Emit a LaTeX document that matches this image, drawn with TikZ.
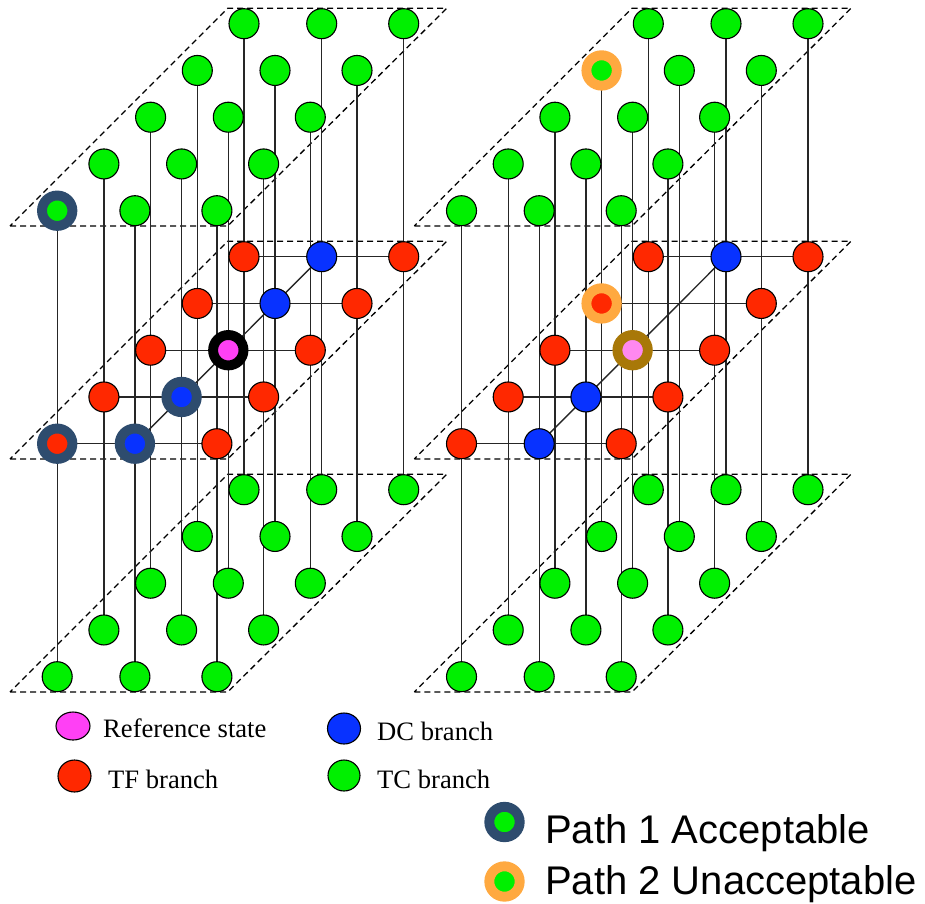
\documentclass[tikz,border=0pt]{standalone}
\usepackage{fontspec}
\setmainfont{Liberation Serif}
\newfontfamily\pathfont{Liberation Sans}
\usetikzlibrary{shapes.geometric,backgrounds}
\definecolor{tcgreen}{RGB}{0,240,0}
\definecolor{tfred}{RGB}{255,40,0}
\definecolor{dcblue}{RGB}{8,50,255}
\definecolor{refpink}{RGB}{255,64,245}
\definecolor{refpinklight}{RGB}{255,136,240}
\definecolor{ringblue}{RGB}{46,76,110}
\definecolor{ringorange}{RGB}{255,169,64}
\definecolor{ringbrown}{RGB}{168,120,8}
\begin{document}
\begin{tikzpicture}[x=1pt,y=-1pt,
  state/.style={circle,draw=black,line width=1.1pt,inner sep=0pt,minimum size=30pt},
  ringnode/.style={circle,inner sep=0pt,minimum size=30.4pt,line width=9.9pt},
  legendmark/.style={ellipse,draw=black,line width=1.1pt,inner sep=0pt},
  link/.style={line width=1.4pt,draw=black!85},
  plane/.style={line width=1.3pt,dash pattern=on 6pt off 4pt},
  legtext/.style={anchor=base west,inner sep=0pt,font=\fontsize{26.6pt}{30pt}\selectfont},
  pathtext/.style={anchor=base west,inner sep=0pt,font=\pathfont\fontsize{40pt}{45pt}\selectfont}]
\useasboundingbox (0,0) rectangle (925,903);

% grid positions and plane corners
\foreach \k/\ox in {0/0,1/404.3} {
  \foreach \L in {0,1,2} {
    \pgfmathsetmacro\yt{8.3+233*\L}
    \pgfmathsetmacro\yb{226+233*\L}
    \coordinate (c\k-\L-bl) at (\ox+10,\yb);
    \coordinate (c\k-\L-br) at (\ox+227.7,\yb);
    \coordinate (c\k-\L-tr) at (\ox+446.7,\yt);
    \coordinate (c\k-\L-tl) at (\ox+227.7,\yt);
    \foreach \r in {0,...,4} {
      \foreach \c/\cx in {0/0,1/77.7,2/159.7} {
        \pgfmathsetmacro\xx{\ox+244-46.7*\r+\cx}
        \pgfmathsetmacro\yy{23.7+46.75*\r+233*\L}
        \coordinate (p\k-\L-\r-\c) at (\xx,\yy);
      }
    }
  }
}

% standard state nodes
\foreach \k in {0,1} {
  \foreach \L in {0,1,2} {
    \foreach \r in {0,...,4} {
      \foreach \c in {0,1,2} {
        \ifnum\L=1
          \ifnum\c=1 \def\fc{dcblue}\else\def\fc{tfred}\fi
        \else
          \def\fc{tcgreen}
        \fi
        \ifnum\k\L\r\c=1111
        \else
          \node[state,fill=\fc] (n\k-\L-\r-\c) at (p\k-\L-\r-\c) {};
        \fi
      }
    }
  }
}

% highlighted nodes (replace the standard ones)
\node[ringnode,draw=ringblue,fill=tcgreen] (n0-0-4-0) at (p0-0-4-0) {};
\node[ringnode,draw=ringblue,fill=tfred] (n0-1-4-0) at (p0-1-4-0) {};
\node[ringnode,draw=ringblue,fill=dcblue] (n0-1-4-1) at (p0-1-4-1) {};
\node[ringnode,draw=ringblue,fill=dcblue] (n0-1-3-1) at (p0-1-3-1) {};
\node[ringnode,draw=black,fill=refpink] (n0-1-2-1) at (p0-1-2-1) {};
\node[ringnode,draw=ringorange,fill=tcgreen] (n1-0-1-0) at (p1-0-1-0) {};
\node[ringnode,draw=ringorange,fill=tfred] (n1-1-1-0) at (p1-1-1-0) {};
\node[ringnode,draw=ringbrown,fill=refpinklight] (n1-1-2-1) at (p1-1-2-1) {};

\begin{pgfonlayer}{background}
  \foreach \k in {0,1} {
    \foreach \L in {0,1,2} {
      \draw[plane] (c\k-\L-bl) -- (c\k-\L-br) -- (c\k-\L-tr) -- (c\k-\L-tl) -- cycle;
    }
    \foreach \r in {0,...,4} {
      \foreach \c in {0,1,2} {
        \draw[link] (n\k-0-\r-\c.center) -- (n\k-2-\r-\c.center);
      }
      \draw[link] (n\k-1-\r-0.center) -- (n\k-1-\r-2.center);
    }
    \draw[link] (n\k-1-0-1.center) -- (n\k-1-4-1.center);
  }
\end{pgfonlayer}

% legend
\node[legendmark,fill=refpink,minimum width=34pt,minimum height=28pt] (lgref) at (73,726) {};
\node[legtext] (ltref) at (103,737) {Reference state};
\node[legendmark,fill=tfred,minimum width=33pt,minimum height=32pt] (lgtf) at (74.5,776) {};
\node[legtext] (lttf) at (108,788) {TF branch};
\node[legendmark,fill=dcblue,minimum width=33pt,minimum height=31pt] (lgdc) at (344,728.5) {};
\node[legtext] (ltdc) at (377,740) {DC branch};
\node[legendmark,fill=tcgreen,minimum width=32pt,minimum height=31pt] (lgtc) at (344,775.5) {};
\node[legtext] (lttc) at (377,788) {TC branch};

\node[ringnode,draw=ringblue,fill=tcgreen] (lgp1) at (504.5,822) {};
\node[pathtext] (ltp1) at (545,843) {Path 1 Acceptable};
\node[ringnode,draw=ringorange,fill=tcgreen] (lgp2) at (504.5,881.5) {};
\node[pathtext] (ltp2) at (545,894) {Path 2 Unacceptable};
\end{tikzpicture}
\end{document}
